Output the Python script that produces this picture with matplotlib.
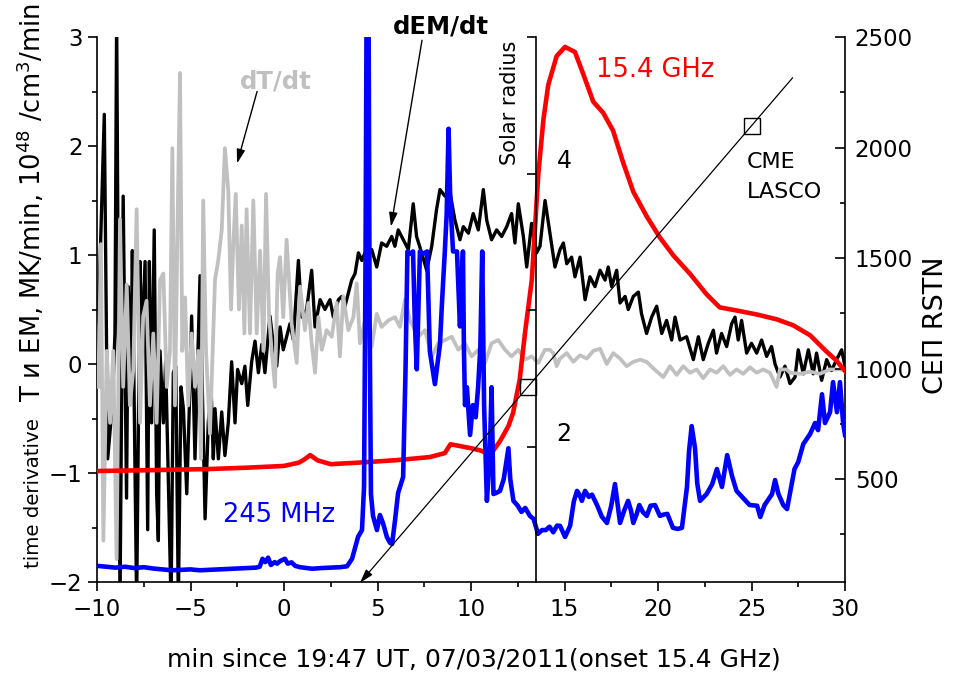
import numpy as np
import matplotlib
matplotlib.use("Agg")
import matplotlib.pyplot as plt
from matplotlib.ticker import MultipleLocator, FixedLocator, NullFormatter

plt.rcParams['font.family'] = ['DejaVu Sans']
plt.rcParams['mathtext.fontset'] = 'dejavusans'

# ---------------- data ----------------
# dEM/dt  (left axis)
dem_t = [-9.93, -9.61, -9.43, -9.18, -9.04, -8.95, -8.77, -8.6, -8.42, -8.33, -8.18, -8.11, -7.88, -7.7,
         -7.61, -7.43, -7.29, -7.2, -7.08, -6.94, -6.81, -6.72, -6.63, -6.45, -6.33, -6.19, -6.04, -5.92,
         -5.79, -5.65, -5.51, -5.38, -5.2, -5.03, -4.94, -4.76, -4.49, -4.37, -4.22, -4.05, -3.9, -3.78,
         -3.69, -3.51, -3.33, -3.16, -2.98, -2.8, -2.62, -2.48, -2.26, -2.09, -1.94, -1.73, -1.55, -1.37,
         -1.19, -1.02, -0.75, -0.57, -0.39,
         -0.21, -0.04, 0.32, 0.5, 0.77, 0.95, 1.21, 1.48, 1.66, 1.93, 2.19, 2.46, 2.64, 2.91, 3.09, 3.26,
         3.44, 3.62, 3.8, 3.98, 4.16, 4.33, 4.69, 4.96, 5.22, 5.49, 5.76, 5.93, 6.11, 6.38, 6.65, 6.91,
         7.09, 7.36, 7.63, 7.9, 8.16, 8.34, 8.61, 8.88, 9.14, 9.41, 9.59, 9.86, 10.12, 10.39, 10.66, 10.84,
         11.1, 11.37, 11.64, 11.91, 12.17, 12.35, 12.53, 12.8, 12.98, 13.24, 13.51,
         13.69, 13.96, 14.22, 14.49, 14.76, 14.94, 15.12, 15.38, 15.56, 15.83, 16.1, 16.36, 16.63, 16.9,
         17.17, 17.34, 17.52, 17.79, 17.97, 18.24, 18.41, 18.68, 18.95, 19.12, 19.39, 19.66, 19.93, 20.2,
         20.46, 20.73, 20.91, 21.18, 21.53, 21.89, 22.16, 22.42, 22.69, 22.96, 23.13, 23.4, 23.67, 23.94,
         24.12, 24.29, 24.47, 24.74, 25.0, 25.28, 25.54, 25.81, 26.07, 26.26, 26.52, 26.79, 27.06, 27.33,
         27.5, 27.77, 28.04, 28.3, 28.48, 28.75, 29.02, 29.28, 29.55, 29.82, 30.0]
dem_v = [0.38, 2.29, -0.87, -0.38, 0.28, 3.2, -2.2, 1.54, -1.23, 0.71, -0.08, 1.04, -2.2, 0.94,
         0.12, 0.94, -1.52, 0.94, -0.54, 1.23, -1.19, -1.62, 0.12, -0.54, 0.02, -1.03, -2.2, -0.08,
         -0.02, -2.2, -0.21, -0.41, -1.19, -0.21, 0.44, -0.87, 0.81, -0.21, -1.42, -0.54, -0.21, -0.87,
         -0.41, -0.87, -0.44, -0.84, -0.54, 0.02, -0.54, -0.05, -0.18, -0.02, -0.38, 0.02, 0.21, -0.08,
         0.18, -0.08, 0.44, 0.18, -0.02,
         0.34, 0.13, 0.37, 0.22, 0.95, 0.43, 0.50, 0.86, 0.34, 0.59, 0.50, 0.59, 0.43, 0.59, 0.62, 0.53,
         0.65, 0.77, 0.83, 1.02, 0.95, 1.02, 1.05, 0.89, 1.11, 1.08, 1.17, 1.08, 1.23, 1.14, 1.05, 1.47,
         1.17, 1.02, 0.86, 1.08, 1.42, 1.60, 1.54, 1.57, 1.32, 1.14, 1.26, 1.20, 1.38, 1.23, 1.60, 1.32,
         1.14, 1.23, 1.17, 1.26, 1.38, 1.11, 1.47, 1.17, 0.89, 1.29, 1.02,
         1.08, 1.50, 1.20, 0.89, 1.05, 1.11, 0.92, 0.98, 0.80, 0.98, 0.59, 0.80, 0.71, 0.86,
         0.77, 0.89, 0.71, 0.86, 0.56, 0.62, 0.50, 0.62, 0.66, 0.46, 0.28, 0.43, 0.53, 0.28,
         0.40, 0.22, 0.43, 0.22, 0.25, 0.04, 0.25, 0.04, 0.19, 0.31, 0.10, 0.28, 0.16, 0.37,
         0.43, 0.22, 0.40, 0.10, 0.19, 0.10, 0.22, 0.07, 0.16, 0.0, -0.12, -0.02, -0.18, -0.12,
         0.13, -0.09, 0.13, -0.09, 0.10, -0.15, 0.04, -0.06, 0.04, 0.13, -0.02]

# dT/dt  (left axis)
dtt_t = [-9.93, -9.79, -9.66, -9.48, -9.3, -9.13, -8.95, -8.77, -8.6, -8.41, -8.24, -8.06, -7.88, -7.7,
         -7.53, -7.35, -7.17, -6.99, -6.81, -6.63, -6.45, -6.27, -6.1, -5.97, -5.83, -5.68, -5.56, -5.44,
         -5.29, -5.12, -4.94, -4.76, -4.58, -4.44, -4.32, -4.17, -3.96, -3.69, -3.51, -3.33, -3.16, -2.98,
         -2.83, -2.71, -2.58, -2.41, -2.26, -2.12, -2.0, -1.82, -1.64, -1.46, -1.28, -1.1, -0.96, -0.8,
         -0.66, -0.48, -0.34,
         -0.21, -0.04, 0.14, 0.41, 0.68, 0.86, 1.12, 1.3, 1.48, 1.66, 1.84, 2.02, 2.28, 2.55, 2.82, 2.99,
         3.17, 3.44, 3.71, 3.89, 4.06, 4.33, 4.69, 4.96, 5.22, 5.58, 5.93, 6.2, 6.47, 6.74, 7.18, 7.54,
         7.9, 8.25, 8.61, 8.97, 9.32, 9.68, 10.03, 10.39, 10.75, 11.1, 11.46, 11.82, 12.17, 12.53, 12.89,
         13.24, 13.6,
         13.95, 14.22, 14.4, 14.58, 14.76, 15.12, 15.47, 15.83, 16.19, 16.54, 16.9, 17.26, 17.61, 17.97,
         18.32, 18.68, 19.04, 19.39, 19.75, 20.28, 20.64, 21.0, 21.35, 21.71, 22.07, 22.42, 22.78, 23.14,
         23.49, 23.85, 24.2, 24.56, 24.92, 25.27, 25.63, 25.99, 26.34, 26.52, 26.88, 27.06, 27.6, 28.13,
         28.66, 29.2, 29.73, 30.0]
dtt_v = [-0.21, 1.1, -1.62, 0.12, -0.54, 0.12, -1.79, 1.33, -0.21, 0.73, -0.38, -0.05, 1.42, -0.54,
         0.44, 0.58, -0.38, 0.28, -0.54, 0.77, 0.83, -0.21, 0.12, 1.98, -0.38, 1.42, 2.67, 0.12,
         0.61, -0.38, 0.28, -0.21, 0.12, -0.87, 1.5, 0.12, -0.64, 0.77, 0.96, 1.23, 1.98, 1.59,
         0.5, 1.1, 1.56, 0.5, 1.27, 0.28, 1.42, 0.28, 1.5, 0.28, 1.04, 0.12, 1.56, 0.44,
         0.12, -0.21, 0.83,
         0.98, 0.43, 1.14, 0.37, 0.01, 0.71, 0.31, 0.56, 0.19, -0.08, 0.43, 0.13, 0.31, 0.25, 0.56, 0.07,
         0.62, 0.31, 0.43, 0.74, 0.19, 0.40, 0.16, 0.46, 0.34, 0.40, 0.43, 0.34, 0.59, 0.40, 0.25, 0.31,
         0.07, 0.19, 0.22, 0.25, 0.13, 0.19, 0.07, 0.13, 0.01, 0.19, 0.22, 0.13, 0.07, 0.13, 0.04,
         0.07, 0.01,
         0.13, 0.13, 0.10, -0.02, 0.05, 0.10, 0.02, 0.08, 0.05, 0.12, 0.14, 0.0, 0.10, 0.05,
         -0.02, 0.02, 0.04, 0.02, -0.04, -0.12, -0.02, -0.10, -0.02, -0.08, -0.05, -0.13, -0.05, -0.08,
         -0.02, -0.10, -0.05, -0.09, -0.03, -0.08, -0.05, -0.08, -0.21, -0.05, -0.05, -0.08, -0.09, -0.07,
         -0.09, -0.05, -0.05, -0.06]

# 15.4 GHz RSTN flux (right axis)
ghz_t = [-10, -7, -4, -2, -1, 0, 0.8, 1.1, 1.4, 1.8, 2.5, 4, 6, 7.8, 8.6, 8.9, 9.4, 10.0, 10.5, 10.84,
         11.2, 11.55, 12.0, 12.25, 12.6, 12.9, 13.25, 13.6, 13.87, 14.13, 14.58, 15.03, 15.56, 16.0,
         16.54, 17.07, 17.6, 18.14, 18.68, 19.4, 20.1, 20.82, 21.7, 22.6, 23.3, 24.2, 25.28, 26.35,
         27.23, 28.13, 29.0, 29.5, 30.0]
ghz_v = [537, 541, 546, 552, 556, 560, 575, 590, 609, 585, 568, 575, 586, 600, 618, 658, 650, 640, 630, 618,
         630, 672, 740, 800, 948, 1170, 1400, 1880, 2125, 2283, 2414, 2455, 2432, 2333,
         2207, 2157, 2076, 1931, 1800, 1688, 1593, 1512, 1430, 1336, 1277, 1263, 1245, 1223,
         1196, 1151, 1078, 1040, 990]

# 245 MHz RSTN flux (right axis)
mhz_t = [-10, -9.5, -9, -8.5, -8, -7.5, -7, -6.5, -6, -5.5, -5, -4.5, -4, -3.5, -3, -2.5, -2, -1.5, -1.3,
         -1.15, -1.0, -0.85, -0.7, -0.5, -0.37, -0.2, 0.05, 0.2, 0.4, 0.6, 0.86, 1.5, 2.0, 2.5, 3.0, 3.37,
         3.64, 3.96, 4.17, 4.28, 4.36, 4.42, 4.52, 4.58, 4.65, 4.76, 4.97, 5.13, 5.3, 5.5, 5.67, 5.78,
         5.94, 6.1, 6.37, 6.5, 6.6, 6.75, 6.9, 7.0, 7.1, 7.2, 7.27, 7.45, 7.65, 7.8, 8.07, 8.34, 8.45,
         8.6, 8.7, 8.8, 8.88, 8.93, 9.04, 9.25, 9.41, 9.5, 9.57, 9.62, 9.68, 9.78, 9.95, 10.1, 10.25,
         10.38, 10.5, 10.6, 10.7, 10.85, 11.0, 11.1, 11.2, 11.4, 11.55, 11.75, 12.0, 12.1, 12.27, 12.5,
         12.7, 12.9, 13.15, 13.35, 13.58, 13.8, 14.0, 14.2, 14.4, 14.6, 14.76, 15.03, 15.3, 15.5, 15.67,
         15.8, 15.93, 16.1, 16.3, 16.47, 16.74, 17.0, 17.27, 17.5, 17.7, 17.85, 17.97, 18.2, 18.4, 18.55,
         18.68, 18.85, 19.0, 19.2, 19.4, 19.6, 19.84, 20.1, 20.3, 20.5, 20.8, 21.05, 21.28, 21.55, 21.66,
         21.8, 21.98, 22.1, 22.25, 22.6, 22.9, 23.15, 23.42, 23.7, 23.96, 24.2, 24.55, 24.9, 25.3, 25.47,
         25.7, 26.1, 26.26, 26.44, 26.7, 26.9, 27.15, 27.3, 27.5, 27.77, 28.13, 28.4, 28.56, 28.77, 28.93,
         29.2, 29.36, 29.57, 29.73, 29.9, 30.0]
mhz_v = [108, 104, 100, 104, 98, 102, 96, 92, 88, 90, 92, 88, 90, 92, 94, 96, 98, 100, 104,
         140, 125, 145, 112, 125, 118, 130, 140, 118, 124, 108, 102, 95, 98, 100, 102, 106,
         140, 239, 270, 465, 1500, 2700, 2700, 1200, 433, 334, 270, 338, 300, 239, 212, 207,
         316, 437, 510, 1000, 1530, 1520, 1530, 1200, 997, 1300, 1530, 1520, 1530, 1078, 930, 1110, 1300,
         1530, 1700, 2085, 1800, 1700, 1530, 1530, 1191, 1400, 1530, 1100, 835, 916, 700, 835, 780,
         916, 1100, 1530, 835, 402, 600, 916, 433, 440, 447, 500, 640, 500, 402, 380,
         352, 370, 334, 320, 253, 270, 270, 285, 260, 290, 289, 239, 289, 400, 447,
         430, 402, 447, 420, 430, 383, 330, 302, 380, 478, 380, 302, 360, 402, 360,
         302, 340, 383, 350, 334, 380, 383, 334, 340, 343, 280, 275, 280, 465, 627,
         740, 640, 480, 402, 433, 478, 546, 465, 609, 514, 447, 415, 383, 380, 329,
         383, 433, 496, 433, 383, 365, 478, 546, 578, 659, 704, 754, 722, 884, 754,
         803, 939, 803, 939, 754, 700]

# CME LASCO height-time points (solar radius axis) and extent of the fitted line
cme_t = [13.05, 25.0]
cme_r = [2.44, 4.35]
cme_line_t = [4.06, 27.2]

# ---------------- figure ----------------
W, H = 955, 675
fig = plt.figure(figsize=(W / 100, H / 100), dpi=100)
L, R, T, B = 97, 845, 37, 582
ax = fig.add_axes([L / W, 1 - B / H, (R - L) / W, (B - T) / H])
ax.set_xlim(-10, 30)
ax.set_ylim(-2, 3)

GRAY = '#c0c0c0'
ax.plot(dem_t, dem_v, color='black', lw=2.4, zorder=2)
ax.plot(dtt_t, dtt_v, color=GRAY, lw=2.7, zorder=3)

axR = ax.twinx()
axR.set_ylim(35, 2500)
axR.plot(ghz_t, ghz_v, color='#ff0000', lw=3.3, zorder=3)
axR.plot(mhz_t, mhz_v, color='#0000ff', lw=3.3, zorder=4)

axS = ax.twinx()
axS.set_ylim(1.01, 5.0)
for s in ['top', 'left', 'bottom']:
    axS.spines[s].set_visible(False)
axS.spines['right'].set_position(('data', 13.5))
axS.spines['right'].set_linewidth(1.2)
axS.yaxis.set_major_locator(FixedLocator([2, 3, 4, 5]))
axS.yaxis.set_major_formatter(NullFormatter())
axS.tick_params(axis='y', direction='in', length=6.5, width=1.2)
axS.text(14.97, 4.09, '4', fontsize=17, ha='center', va='center')
axS.text(14.97, 2.09, '2', fontsize=17, ha='center', va='center')

# CME line: linear fit through the LASCO points, extrapolated
slope = (cme_r[1] - cme_r[0]) / (cme_t[1] - cme_t[0])
r_lo = cme_r[0] + slope * (cme_line_t[0] - cme_t[0])
r_hi = cme_r[0] + slope * (cme_line_t[1] - cme_t[0])
axS.annotate('', xy=(cme_line_t[0], r_lo), xytext=(cme_line_t[1], r_hi),
             arrowprops=dict(arrowstyle='-|>,head_length=0.6,head_width=0.18', lw=0.9,
                             color='black', shrinkA=0, shrinkB=0, mutation_scale=14),
             annotation_clip=False, zorder=6)
axS.plot(cme_t, cme_r, ls='none', marker='s', ms=12, mfc='none', mec='black', mew=1.0, zorder=6)

# spines / ticks
for a in (ax, axR):
    a.spines['top'].set_visible(False)
    for s in a.spines.values():
        s.set_linewidth(1.2)
ax.spines['right'].set_visible(False)
axR.spines['left'].set_visible(False)
axR.spines['bottom'].set_visible(False)

ax.xaxis.set_major_locator(MultipleLocator(5))
ax.xaxis.set_minor_locator(MultipleLocator(2.5))
ax.yaxis.set_major_locator(MultipleLocator(1))
ax.yaxis.set_minor_locator(MultipleLocator(0.5))
ax.tick_params(which='major', direction='out', length=6.5, width=1.2, labelsize=16.5, pad=4)
ax.tick_params(which='minor', direction='out', length=3.8, width=1.2)
ax.tick_params(axis='x', which='major', pad=5)

axR.yaxis.set_major_locator(FixedLocator([500, 1000, 1500, 2000, 2500]))
axR.yaxis.set_minor_locator(FixedLocator([250, 750, 1250, 1750, 2250]))
axR.tick_params(which='major', direction='in', length=7, width=1.2, labelsize=16.5, pad=7)
axR.tick_params(which='minor', direction='in', length=3.8, width=1.2)

# annotations
ax.text(-0.43, 2.53, 'dT/dt', color=GRAY, fontsize=17.5, fontweight='bold', ha='center', va='baseline')
ax.annotate('', xy=(-2.51, 1.84), xytext=(-1.44, 2.5),
            arrowprops=dict(arrowstyle='-|>,head_length=0.6,head_width=0.18', lw=1.0, color='black',
                            shrinkA=0, shrinkB=0, mutation_scale=14))
ax.text(8.37, 3.03, 'dEM/dt', color='black', fontsize=17.5, fontweight='bold', ha='center',
        va='baseline', clip_on=False)
ax.annotate('', xy=(5.72, 1.26), xytext=(7.38, 2.97),
            arrowprops=dict(arrowstyle='-|>,head_length=0.6,head_width=0.18', lw=1.0, color='black',
                            shrinkA=0, shrinkB=0, mutation_scale=14), annotation_clip=False)
ax.text(19.84, 2.63, '15.4 GHz', color='#ff0000', fontsize=18.5, ha='center', va='baseline')
ax.text(-0.27, -1.45, '245 MHz', color='#0000ff', fontsize=18.5, ha='center', va='baseline')
ax.text(24.76, 1.798, 'CME', color='black', fontsize=16, ha='left', va='baseline')
ax.text(24.76, 1.523, 'LASCO', color='black', fontsize=16, ha='left', va='baseline')
ax.text(12.09, 2.40, 'Solar radius', fontsize=15, rotation=90, ha='center', va='center')

# axis labels
fig.text(474 / W, 1 - 667 / H, 'min since 19:47 UT, 07/03/2011(onset 15.4 GHz)', fontsize=18,
         ha='center', va='baseline')
fig.text(936 / W, 1 - 325 / H, 'СЕП RSTN', fontsize=19.5, rotation=90, ha='center', va='center')
fig.text(33.5 / W, 1 - 493 / H, 'time derivative', fontsize=14.2, rotation=90, ha='center', va='center')
fig.text(31 / W, 1 - 402 / H, r'T и EM, MK/min, 10$^{48}$ /cm$^{3}$/min', fontsize=18.5, rotation=90,
         ha='center', va='bottom')

fig.savefig('out.png', dpi=100)
